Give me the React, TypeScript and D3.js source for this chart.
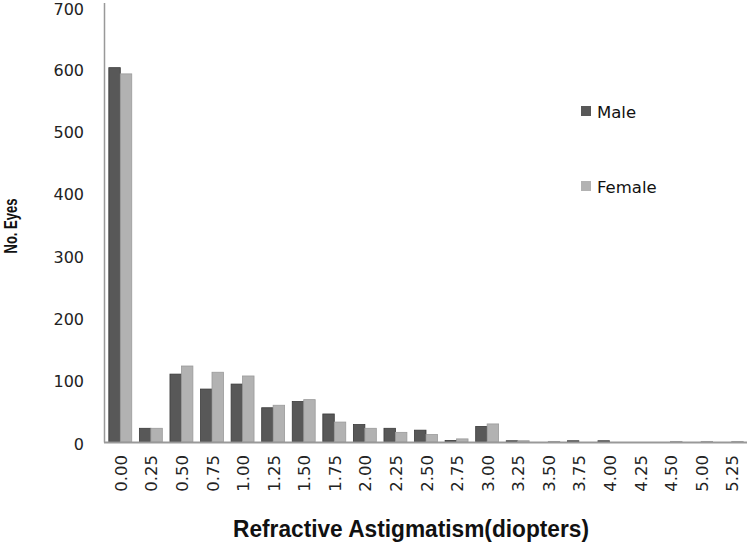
import React from "react";
import * as d3 from "d3";

const categories = ["0.00","0.25","0.50","0.75","1.00","1.25","1.50","1.75","2.00","2.25","2.50","2.75","3.00","3.25","3.50","3.75","4.00","4.25","4.50","5.00","5.25"];
const maleValues = [601, 22, 109, 85, 93, 55, 65, 45, 28, 22, 19, 2.5, 25, 2, 0, 2, 2, 0, 0, 0, 0];
const femaleValues = [591, 22, 122, 112, 106, 59, 68, 32, 22, 15.5, 12, 5, 29, 2, 1, 0, 0, 0, 1, 1, 1];
const yTicks = [0, 100, 200, 300, 400, 500, 600, 700];
const seriesNames = ["Male", "Female"];

const W = 748, H = 542;
const fontMain = "'DejaVu Sans', 'Noto Sans', sans-serif";
const fontBold = "'Liberation Sans Narrow', 'Liberation Sans', Arial, sans-serif";

export default function App() {
  const x = d3.scaleBand<string>().domain(categories).range([105, 747]).paddingInner(0.25).paddingOuter(0.125);
  const y = d3.scaleLinear().domain([0, 700]).range([442, 6]);
  const bw = x.bandwidth() / 2;
  const maleFill = "#585858", maleStroke = "#3a3a3a";
  const femFill = "#b2b2b2", femStroke = "#9a9a9a";

  return (
    <svg width={W} height={H} style={{ position: "absolute", left: 0, top: 0, background: "#fff" }}>
      <rect x={0} y={0} width={W} height={H} fill="#fff" />
      {/* bars */}
      {categories.map((c, i) => {
        const x0 = x(c)!;
        const m = maleValues[i], f = femaleValues[i];
        return (
          <g key={c}>
            {m > 0 && (
              <rect x={x0} y={y(m)} width={bw} height={y(0) - y(m)} fill={maleFill} stroke={maleStroke} strokeWidth={0.8} />
            )}
            {f > 0 && (
              <rect x={x0 + bw} y={y(f)} width={bw} height={y(0) - y(f)} fill={femFill} stroke={femStroke} strokeWidth={0.8} />
            )}
          </g>
        );
      })}
      {/* axes */}
      <line x1={104.5} x2={104.5} y1={3} y2={442.5} stroke="#999" strokeWidth={1.5} />
      <line x1={104} x2={747} y1={442.5} y2={442.5} stroke="#999" strokeWidth={2} />
      {/* y tick labels */}
      {yTicks.map((t) => (
        <text key={t} x={84} y={Math.max(y(t) + 2, 9)} textAnchor="end" dominantBaseline="central" fontFamily={fontMain} fontSize={16} fill="#222">
          {t}
        </text>
      ))}
      {/* x tick labels */}
      {categories.map((c) => {
        const cx = x(c)! + x.bandwidth() / 2 + 1;
        return (
          <text key={c} transform={`translate(${cx},455) rotate(-90)`} textAnchor="end" dominantBaseline="central" fontFamily={fontMain} fontSize={16.5} fill="#222">
            {c}
          </text>
        );
      })}
      {/* axis titles */}
      <text transform="translate(11,226) rotate(-90)" textAnchor="middle" dominantBaseline="central" fontFamily={fontBold} fontWeight="bold" fontSize={18} fill="#111" textLength={55} lengthAdjust="spacingAndGlyphs">
        No. Eyes
      </text>
      <text x={411} y={529} textAnchor="middle" dominantBaseline="central" fontFamily={fontBold} fontWeight="bold" fontSize={23} fill="#111" textLength={356} lengthAdjust="spacingAndGlyphs">
        Refractive Astigmatism(diopters)
      </text>
      {/* legend */}
      {seriesNames.map((s, i) => {
        const ly = i === 0 ? 111 : 186;
        return (
          <g key={s}>
            <rect x={581} y={ly - 5} width={10} height={10} fill={i === 0 ? maleFill : femFill} />
            <text x={597} y={ly + 1} dominantBaseline="central" fontFamily={fontMain} fontSize={16.5} fill="#111">
              {s}
            </text>
          </g>
        );
      })}
    </svg>
  );
}
